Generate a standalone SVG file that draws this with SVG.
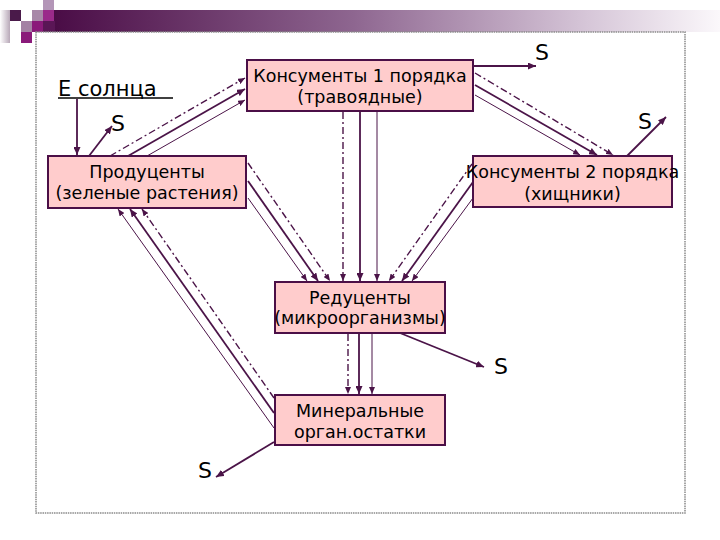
<svg xmlns="http://www.w3.org/2000/svg" width="720" height="540" viewBox="0 0 720 540">
<defs>
<linearGradient id="band" x1="0" y1="0" x2="1" y2="0">
<stop offset="0" stop-color="#4a0c46"/>
<stop offset="0.45" stop-color="#8e6690"/>
<stop offset="0.8" stop-color="#d6c6d8"/>
<stop offset="1" stop-color="#fbf8fb"/>
</linearGradient>
<linearGradient id="side" x1="0" y1="0" x2="1" y2="0">
<stop offset="0" stop-color="#ffffff"/>
<stop offset="1" stop-color="#b8a8b8"/>
</linearGradient>
<marker id="ah" markerUnits="userSpaceOnUse" markerWidth="9" markerHeight="7" refX="8" refY="3.5" orient="auto">
<path d="M0,0 L8,3.5 L0,7 z" fill="#4b1448"/>
</marker>
<marker id="ahs" markerUnits="userSpaceOnUse" markerWidth="8" markerHeight="6" refX="7" refY="3" orient="auto">
<path d="M0,0 L7,3 L0,6 z" fill="#4b1448"/>
</marker>
<style>
.box{fill:#ffcccc;stroke:#4b0f47;stroke-width:2}
.t{font-family:"DejaVu Sans",sans-serif;font-size:17.5px;fill:#000;text-anchor:middle}
.big{font-family:"DejaVu Sans",sans-serif;font-size:22px;fill:#000}
.c{fill:none;stroke:#4b1448}
.th{stroke-width:1.8;marker-end:url(#ah)}
.tn{stroke-width:1;marker-end:url(#ahs)}
.dd{stroke-width:1.4;stroke-dasharray:7,3,2,3;marker-end:url(#ahs)}
</style>
</defs>
<rect width="720" height="540" fill="#ffffff"/>
<g id="header">
<rect x="54" y="10" width="666" height="22" fill="url(#band)"/>
<rect x="43" y="21" width="12" height="11" fill="#5a1656"/>
<rect x="0" y="10" width="10" height="33" fill="url(#side)"/>
<rect x="10" y="10" width="11" height="11" fill="#4a1a4a"/>
<rect x="43" y="0" width="11" height="10" fill="#b496b8"/>
<rect x="32" y="10" width="11" height="11" fill="#a888a8"/>
<rect x="43" y="10" width="11" height="11" fill="#9a2a8a"/>
<rect x="21" y="21" width="11" height="11" fill="#a482a4"/>
<rect x="32" y="21" width="11" height="11" fill="#8a1a7a"/>
<rect x="21" y="32" width="11" height="11" fill="#8a1a7a"/>
</g>
<rect id="frame" x="36" y="32" width="649" height="481" fill="none" stroke="#8a8a8a" stroke-width="1.5" stroke-dasharray="1.5,0.8"/>

<g id="producers">
<rect class="box" x="48" y="156" width="198" height="52"/>
<text class="t" x="147" y="178">Продуценты</text>
<text class="t" x="147" y="199">(зеленые растения)</text>
</g>
<g id="consumers1">
<rect class="box" x="247" y="60" width="226" height="51"/>
<text class="t" x="360" y="82">Консументы 1 порядка</text>
<text class="t" x="360" y="103">(травоядные)</text>
</g>
<g id="consumers2">
<rect class="box" x="473" y="156" width="199" height="51"/>
<text class="t" x="572.5" y="178">Консументы 2 порядка</text>
<text class="t" x="572.5" y="200">(хищники)</text>
</g>
<g id="reducers">
<rect class="box" x="275" y="282" width="170" height="51"/>
<text class="t" x="360" y="304">Редуценты</text>
<text class="t" x="360" y="324">(микроорганизмы)</text>
</g>
<g id="minerals">
<rect class="box" x="275" y="395" width="170" height="50"/>
<text class="t" x="360" y="417">Минеральные</text>
<text class="t" x="360" y="438">орган.остатки</text>
</g>

<g id="labels">
<text class="big" x="58" y="96" style="font-size:21px">Е солнца </text>
<line x1="58" y1="98" x2="173" y2="98" stroke="#000" stroke-width="1.5"/>
<text class="big" x="535" y="60">S</text>
<text class="big" x="111" y="131">S</text>
<text class="big" x="638" y="129">S</text>
<text class="big" x="494" y="374">S</text>
<text class="big" x="198" y="478">S</text>
</g>

<g id="connectors">
<path class="c th" d="M77,99 L77,155"/>
<path class="c th" d="M89,156 L112,126"/>
<path class="c dd" d="M110,156 L245,78"/>
<path class="c th" d="M128,156 L245,89"/>
<path class="c tn" d="M147,156 L245,100"/>
<path class="c th" d="M473,66 L536,66"/>
<path class="c dd" d="M475,73 L613,155"/>
<path class="c th" d="M475,85 L597,155"/>
<path class="c tn" d="M475,95 L580,155"/>
<path class="c th" d="M627,156 L666,117"/>
<path class="c dd" d="M343,112 L343,281"/>
<path class="c th" d="M360,112 L360,281"/>
<path class="c tn" d="M377,112 L377,281"/>
<path class="c dd" d="M248,163 L330,281"/>
<path class="c th" d="M248,181 L318,281"/>
<path class="c tn" d="M248,198 L307,281"/>
<path class="c dd" d="M472,164 L389,281"/>
<path class="c th" d="M473,182 L402,281"/>
<path class="c tn" d="M473,198 L412,281"/>
<path class="c dd" d="M348,334 L348,394"/>
<path class="c th" d="M359,334 L359,394"/>
<path class="c tn" d="M372,334 L372,394"/>
<path class="c th" d="M400,333 L484,367"/>
<path class="c tn" d="M274,428 L118,209"/>
<path class="c th" d="M274,413 L130,209"/>
<path class="c dd" d="M274,398 L142,209"/>
<path class="c th" d="M274,442 L216,477"/>
</g>
</svg>
